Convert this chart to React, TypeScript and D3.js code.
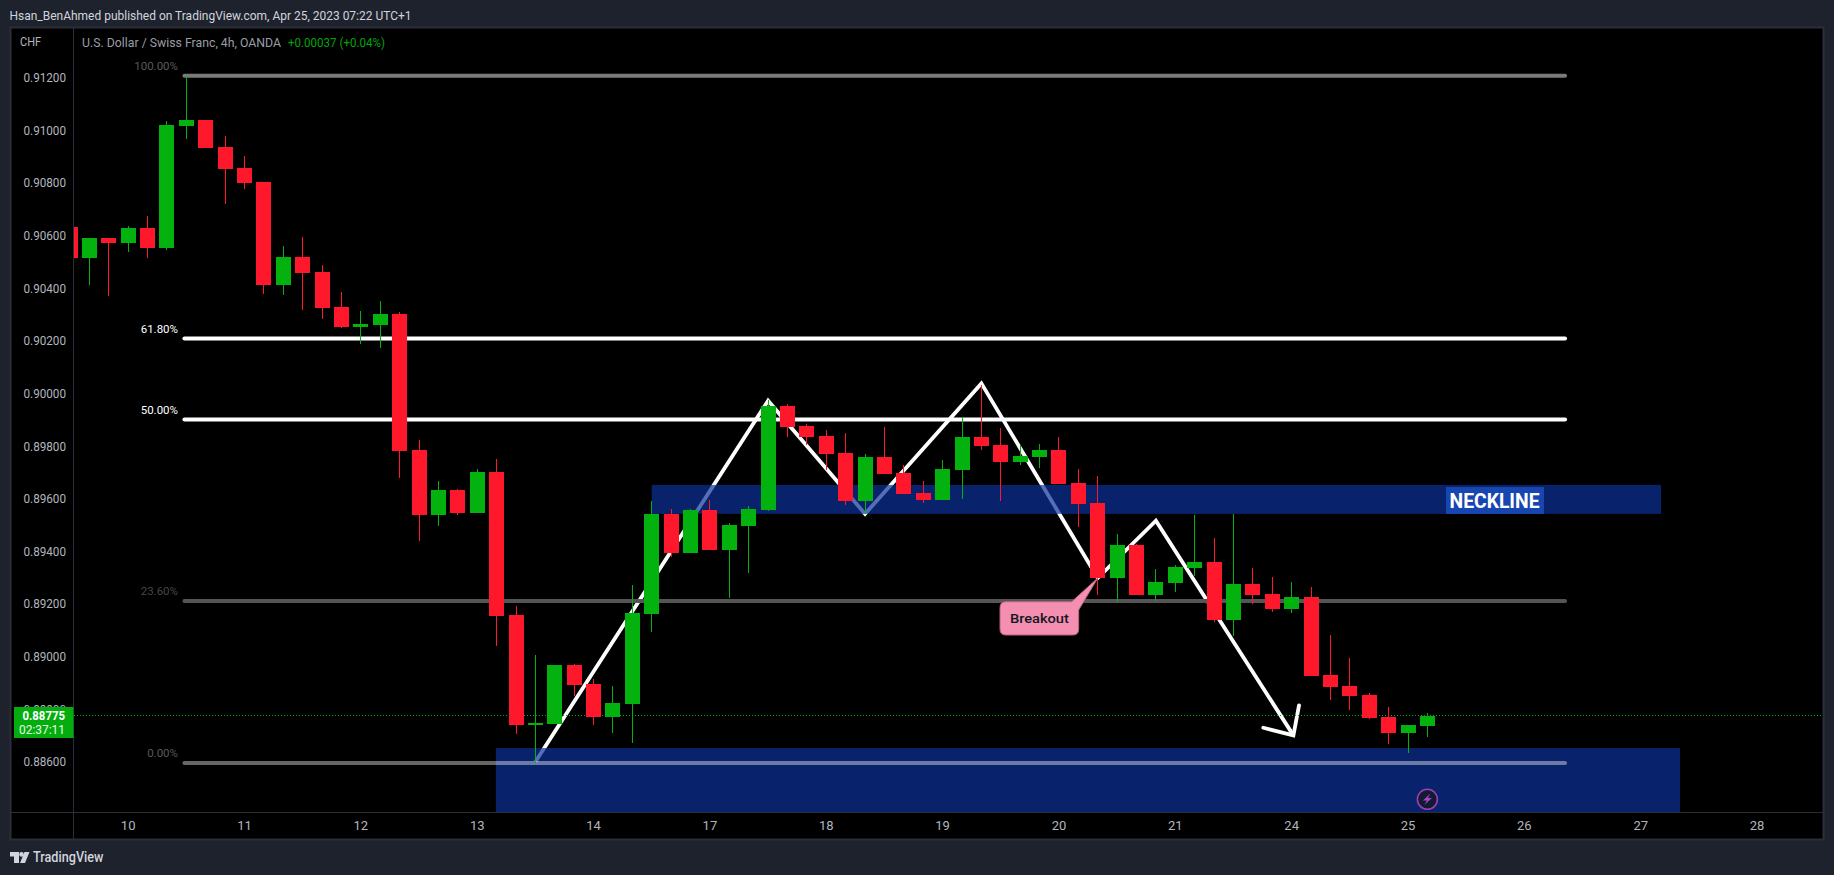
import React from "react";
import * as d3 from "d3";

const opens = [0.90633,0.90516,0.90591,0.90573,0.90629,0.90554,0.91018,0.91039,0.90937,0.90857,0.90804,0.90412,0.90519,0.90462,0.90328,0.90252,0.90261,0.90302,0.89785,0.89538,0.89633,0.89545,0.89701,0.89158,0.88741,0.88743,0.88968,0.88895,0.88770,0.88819,0.89162,0.89542,0.89393,0.89557,0.89405,0.89496,0.89557,0.89952,0.89876,0.89838,0.89774,0.89591,0.89758,0.89698,0.89622,0.89595,0.89709,0.89834,0.89804,0.89739,0.89758,0.89785,0.89660,0.89583,0.89298,0.89424,0.89234,0.89279,0.89336,0.89359,0.89139,0.89276,0.89238,0.89181,0.89226,0.88930,0.88888,0.88854,0.88770,0.88709,0.88736];
const highs = [0.90633,0.90591,0.90591,0.90636,0.90674,0.91036,0.91207,0.91039,0.90979,0.90902,0.90804,0.90560,0.90595,0.90488,0.90386,0.90313,0.90351,0.90310,0.89823,0.89667,0.89637,0.89713,0.89751,0.89192,0.89006,0.88968,0.88972,0.88915,0.88888,0.89272,0.89591,0.89561,0.89561,0.89595,0.89507,0.89572,0.89975,0.89960,0.89884,0.89861,0.89850,0.89770,0.89872,0.89728,0.89667,0.89747,0.89910,0.90032,0.89869,0.89804,0.89808,0.89834,0.89713,0.89686,0.89466,0.89428,0.89333,0.89348,0.89538,0.89450,0.89542,0.89336,0.89302,0.89283,0.89264,0.89082,0.88994,0.88861,0.88808,0.88740,0.88785];
const lows = [0.90516,0.90412,0.90371,0.90539,0.90516,0.90546,0.90967,0.90934,0.90721,0.90777,0.90378,0.90374,0.90317,0.90283,0.90249,0.90189,0.90174,0.89678,0.89439,0.89496,0.89538,0.89545,0.89040,0.88705,0.88595,0.88743,0.88850,0.88740,0.88709,0.88671,0.89093,0.89378,0.89393,0.89405,0.89222,0.89317,0.89553,0.89834,0.89804,0.89709,0.89576,0.89542,0.89694,0.89618,0.89583,0.89595,0.89599,0.89785,0.89591,0.89728,0.89717,0.89656,0.89492,0.89234,0.89207,0.89234,0.89211,0.89245,0.89306,0.89131,0.89078,0.89200,0.89169,0.89165,0.88926,0.88835,0.88797,0.88762,0.88667,0.88633,0.88694];
const closes = [0.90516,0.90591,0.90573,0.90629,0.90554,0.91020,0.91039,0.90934,0.90854,0.90800,0.90412,0.90519,0.90458,0.90326,0.90252,0.90264,0.90302,0.89781,0.89538,0.89633,0.89545,0.89701,0.89154,0.88740,0.88746,0.88968,0.88892,0.88770,0.88823,0.89165,0.89542,0.89393,0.89557,0.89405,0.89500,0.89561,0.89952,0.89872,0.89834,0.89770,0.89591,0.89758,0.89694,0.89618,0.89595,0.89713,0.89834,0.89800,0.89739,0.89762,0.89785,0.89656,0.89580,0.89298,0.89424,0.89234,0.89283,0.89340,0.89359,0.89139,0.89276,0.89234,0.89181,0.89226,0.88926,0.88884,0.88850,0.88766,0.88709,0.88740,0.88775];

const priceTicks = [0.912,0.91,0.908,0.906,0.904,0.902,0.9,0.898,0.896,0.894,0.892,0.89,0.888,0.886];
const dayLabels = ["10","11","12","13","14","17","18","19","20","21","24","25","26","27","28"];
const fibLevels = [
  { label: "100.00%", price: 0.91207, color: "#7a7a7a", text: "#5a5a5a" },
  { label: "61.80%", price: 0.90209, color: "#ffffff", text: "#ffffff" },
  { label: "50.00%", price: 0.89901, color: "#ffffff", text: "#ffffff" },
  { label: "23.60%", price: 0.89211, color: "#555555", text: "#474747" },
  { label: "0.00%", price: 0.88595, color: "rgba(255,255,255,0.4)", text: "#5a5a5a" },
];
const patternLine: [number, number][] = [[23,0.88600],[35,0.89972],[40,0.89542],[46,0.90038],[52,0.89298],[55,0.89516],[62.09,0.88700]];
const arrowHead: [number, number][] = [[60.54,0.88729],[62.09,0.88700],[62.38,0.88814]];
const lastPrice = 0.88775;

const W = 1834, H = 875;
const L = 74, R = 1823, T = 28, B = 812;
const x = d3.scaleLinear().domain([0, 68]).range([89.4, 1408]);
const y = d3.scaleLinear().domain([0.912, 0.886]).range([77.7, 761.7]);
const FONT = "Roboto, sans-serif";
const GREEN = "#03b20e", RED = "#ff172c";
const line = d3.line<[number, number]>().x(d => x(d[0])).y(d => y(d[1]));

function T_({ xx, yy, s, size = 13, fill = "#b2b5be", anchor = "start", len, weight = 400 }: any) {
  return (
    <text x={xx} y={yy} fontSize={size} fill={fill} textAnchor={anchor} dominantBaseline="central"
      fontFamily={FONT} fontWeight={weight}
      {...(len ? { textLength: len, lengthAdjust: "spacingAndGlyphs" } : {})}>{s}</text>
  );
}

export default function App() {
  const candles = opens.map((o, k) => ({ i: k - 1, o, h: highs[k], l: lows[k], c: closes[k] }));
  const fibX0 = x(4.9), fibX1 = x(76.1);
  const neck = { x0: x(29), x1: x(81.05), y0: y(0.89652), y1: y(0.89542) };
  const base = { x0: x(20.96), x1: x(82.03), y0: y(0.88652), y1: y(0.884) };
  return (
    <svg width={W} height={H} style={{ position: "absolute", left: 0, top: 0, display: "block" }}>
      <defs>
        <clipPath id="pane"><rect x={L} y={T} width={R - L} height={B - T} /></clipPath>
      </defs>
      <rect width={W} height={H} fill="#1e222d" />
      <rect x={10.5} y={27.5} width={1813} height={812} fill="#000" stroke="#2a2e39" strokeWidth={2} />
      <line x1={73.5} x2={73.5} y1={28} y2={839} stroke="#2a2e39" />
      <line x1={11} x2={1823} y1={812.5} y2={812.5} stroke="#2a2e39" />

      <T_ xx={9.5} yy={15} s="Hsan_BenAhmed published on TradingView.com, Apr 25, 2023 07:22 UTC+1" fill="#d1d4dc" len={402} />
      <T_ xx={20} yy={41} s="CHF" fill="#b2b5be" len={21} />
      <T_ xx={82} yy={42} s="U.S. Dollar / Swiss Franc, 4h, OANDA" fill="#9a9da6" len={199} />
      <T_ xx={288} yy={42} s="+0.00037 (+0.04%)" fill="#00a40c" len={97} />

      <g clipPath="url(#pane)">
        <path d={line(patternLine)!} fill="none" stroke="#fff" strokeWidth={3.8} strokeLinejoin="miter" />
        <path d={line(arrowHead)!} fill="none" stroke="#fff" strokeWidth={3.8} strokeLinecap="round" />
        {fibLevels.slice(0, 4).map(f => (
          <line key={f.label} x1={fibX0} x2={fibX1} y1={y(f.price)} y2={y(f.price)} stroke={f.color} strokeWidth={4} strokeLinecap="round" />
        ))}
        <rect x={neck.x0} y={neck.y0} width={neck.x1 - neck.x0} height={neck.y1 - neck.y0} fill="#0c3299" fillOpacity={0.7} />
        <rect x={base.x0} y={base.y0} width={base.x1 - base.x0} height={base.y1 - base.y0} fill="#0c3299" fillOpacity={0.7} />
        {fibLevels.slice(4).map(f => (
          <line key={f.label} x1={fibX0} x2={fibX1} y1={y(f.price)} y2={y(f.price)} stroke={f.color} strokeWidth={4} strokeLinecap="round" />
        ))}
        <line x1={L} x2={R} y1={Math.floor(y(lastPrice)) + 0.5} y2={Math.floor(y(lastPrice)) + 0.5} stroke={GREEN} strokeDasharray="1 2" />
        {candles.map(d => {
          const cx = Math.floor(x(d.i));
          const top = Math.round(y(Math.max(d.o, d.c)));
          const bot = Math.round(y(Math.min(d.o, d.c)));
          const col = d.c >= d.o ? GREEN : RED;
          return (
            <g key={d.i} fill={col}>
              <rect x={cx} y={Math.round(y(d.h))} width={1} height={Math.max(1, Math.round(y(d.l)) - Math.round(y(d.h)))} />
              <rect x={cx - 7} y={top} width={15} height={Math.max(1, bot - top)} />
            </g>
          );
        })}
      </g>

      {fibLevels.map(f => (
        <T_ key={f.label} xx={178} yy={y(f.price) - 9.6} s={f.label} size={11.5} fill={f.text} anchor="end" />
      ))}

      <rect x={1446} y={487} width={98} height={27} fill="#1846b0" />
      <T_ xx={1449.5} yy={500.5} s="NECKLINE" size={20} fill="#fff" len={90} weight={700} />

      <path d={`M1006 601.7 L1071.7 601.7 L${x(52)} ${y(0.89298)} L1078.7 610 L1078.7 629 Q1078.7 635 1072.7 635 L1006 635 Q1000 635 1000 629 L1000 607.7 Q1000 601.7 1006 601.7 Z`}
        fill="#f48fb1" stroke="#b5637f" strokeWidth={1} />
      <T_ xx={1039.4} yy={618.5} s="Breakout" size={13} fill="#131722" anchor="middle" len={59} weight={500} />

      <circle cx={x(69)} cy={799.3} r={10} fill="#131a33" stroke="#9c3fb0" strokeWidth={1.6} />
      <path d={`M${x(69) + 3} 793.5 L${x(69) - 4.5} 800.5 L${x(69) - 0.5} 800.5 L${x(69) - 3} 805 L${x(69) + 4.5} 798 L${x(69) + 0.5} 798 Z`} fill="#a746c0" />

      {priceTicks.map(p => (
        <T_ key={p} xx={66} yy={y(p)} s={p.toFixed(5)} fill="#b2b5be" anchor="end" len={42.5} />
      ))}
      <rect x={14} y={707} width={59.5} height={31} fill="#03ad0e" />
      <T_ xx={65} yy={715.8} s={lastPrice.toFixed(5)} fill="#fff" anchor="end" len={42.5} weight={700} />
      <T_ xx={65} yy={729.8} s="02:37:11" fill="#e6ffe6" anchor="end" len={46} />

      {dayLabels.map((d, k) => (
        <T_ key={d} xx={x(2 + k * 6)} yy={825.7} s={d} fill="#b2b5be" anchor="middle" />
      ))}

      <g fill="#d1d4dc">
        <path d="M10 852 L19 852 L19 863 L14 863 L14 856.5 L10 856.5 Z" />
        <circle cx={21.5} cy={854.4} r={2.3} />
        <path d="M24.5 852 L29.5 852 L25 863 L20 863 Z" />
      </g>
      <T_ xx={33} yy={857} s="TradingView" fill="#d1d4dc" size={15} len={70.5} weight={500} />
    </svg>
  );
}
